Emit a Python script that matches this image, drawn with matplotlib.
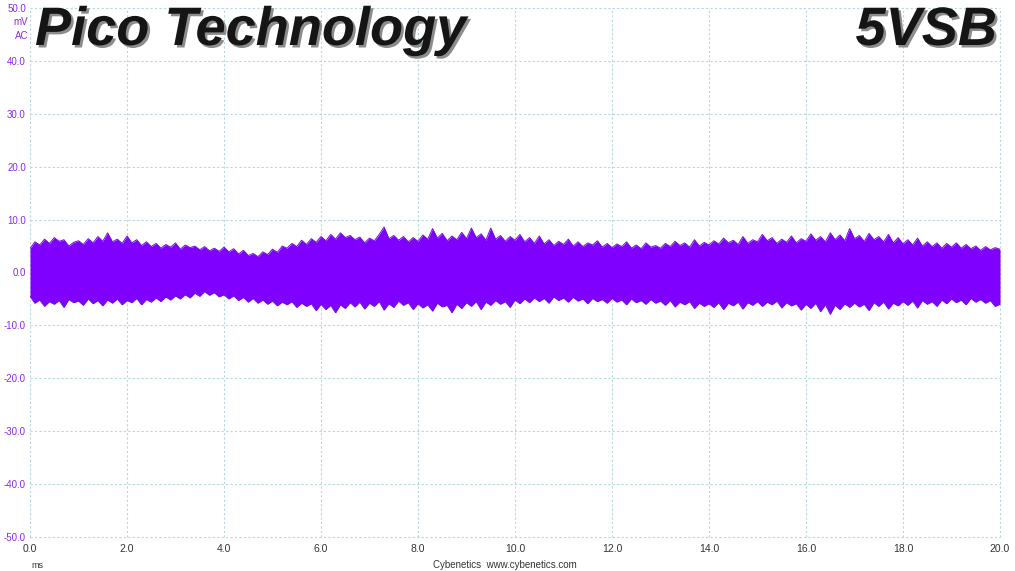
import numpy as np
import matplotlib
matplotlib.use("Agg")
import matplotlib.pyplot as plt
import matplotlib.patheffects as pe

# ---- data: envelope of the 5VSB ripple trace (mV), every 0.1 ms ----
time_ms = [round(i * 0.1, 1) for i in range(201)]

upper_mv = [
    4.5, 5.8, 5.2, 6.3, 5.5, 6.6, 5.9, 6.2, 5.0, 5.7,
    6.0, 5.3, 6.4, 5.6, 6.8, 5.9, 7.5, 5.8, 6.3, 5.5,
    6.9, 5.6, 6.2, 5.1, 5.8, 4.9, 5.5, 4.6, 5.3, 4.8,
    5.6, 4.4, 5.2, 4.7, 5.0, 4.3, 4.9, 4.1, 4.6, 4.0,
    4.8, 3.9, 4.5, 3.5, 4.2, 3.2, 3.6, 3.0, 3.9, 3.4,
    4.4, 3.8, 5.0, 4.6, 5.5, 4.9, 6.1, 5.3, 6.4, 5.7,
    6.8, 6.0, 7.2, 6.3, 7.5, 6.6, 7.0, 6.2, 6.7, 5.6,
    6.5, 6.0, 7.2, 8.6, 6.4, 7.0, 6.1, 6.8, 5.8, 6.6,
    5.9, 7.1, 6.3, 8.3, 6.5, 7.4, 6.0, 6.9, 6.2, 7.6,
    6.4, 8.4, 6.6, 7.3, 6.1, 8.4, 6.3, 7.0, 5.9, 6.8,
    6.1, 7.2, 5.8, 6.6, 5.5, 6.9, 5.4, 6.2, 5.1, 5.9,
    5.3, 6.3, 5.0, 5.8, 4.9, 5.6, 5.2, 6.0, 4.8, 5.5,
    4.7, 5.4, 4.9, 5.8, 4.6, 5.2, 4.5, 5.6, 4.8, 5.1,
    4.6, 5.5, 4.9, 5.9, 5.1, 5.6, 4.8, 6.2, 5.0, 5.7,
    5.2, 6.0, 5.4, 6.5, 5.6, 6.1, 5.3, 6.8, 5.5, 6.2,
    5.8, 7.2, 6.0, 6.6, 5.5, 6.3, 5.7, 6.9, 5.6, 6.4,
    5.9, 7.3, 6.1, 6.8, 5.8, 7.5, 6.2, 7.1, 6.0, 8.3,
    6.4, 7.0, 5.9, 7.4, 6.2, 6.8, 5.8, 7.2, 5.6, 6.6,
    5.4, 6.2, 5.2, 6.5, 5.0, 5.8, 4.9, 5.6, 4.6, 5.5,
    4.8, 5.6, 4.6, 5.3, 4.5, 5.0, 4.2, 4.9, 4.3, 4.7,
    4.4,
]

lower_mv = [
    -4.5, -5.8, -5.2, -6.4, -5.5, -6.0, -5.3, -6.6, -5.1, -5.7,
    -5.4, -6.2, -5.0, -5.9, -5.3, -6.3, -5.2, -5.8, -5.0, -6.1,
    -5.3, -5.7, -4.9, -6.1, -5.1, -5.6, -4.8, -5.5, -4.6, -5.2,
    -4.4, -5.0, -4.2, -4.8, -3.9, -4.5, -3.6, -4.3, -3.8, -4.6,
    -4.2, -5.0, -4.4, -5.3, -4.7, -5.6, -4.9, -5.8, -5.2, -6.0,
    -5.4, -6.3, -5.6, -6.1, -5.5, -6.6, -5.8, -6.4, -5.9, -7.2,
    -6.0, -7.0, -6.2, -7.6, -6.1, -6.8, -5.7, -6.5, -5.6, -6.9,
    -5.8, -6.4, -5.5, -7.1, -5.9, -6.6, -5.4, -6.2, -5.7, -7.0,
    -5.9, -6.7, -6.1, -7.3, -5.8, -6.5, -6.2, -7.6, -6.0, -6.8,
    -5.7, -6.4, -5.5, -7.0, -5.6, -6.2, -5.3, -6.0, -5.5, -6.6,
    -5.2, -5.9, -5.0, -5.7, -4.8, -5.5, -4.9, -5.8, -4.6, -5.3,
    -4.8, -5.6, -4.7, -5.4, -5.0, -5.9, -4.9, -5.5, -5.1, -5.8,
    -4.9, -5.6, -5.2, -6.1, -5.0, -5.7, -5.3, -6.0, -5.1, -5.8,
    -5.4, -6.2, -5.3, -6.5, -5.6, -6.1, -5.5, -6.8, -5.8, -6.4,
    -5.9, -6.6, -5.7, -7.0, -5.8, -6.3, -5.6, -6.9, -5.7, -6.2,
    -5.5, -6.4, -5.6, -6.1, -5.4, -6.7, -5.7, -6.3, -5.9, -7.1,
    -6.0, -6.8, -5.8, -7.4, -6.1, -7.9, -6.2, -7.0, -5.9, -6.6,
    -5.8, -6.5, -6.0, -7.2, -5.7, -6.4, -5.6, -6.9, -5.8, -6.3,
    -5.5, -6.2, -5.4, -6.7, -5.3, -6.0, -5.5, -6.4, -5.2, -5.9,
    -5.0, -5.7, -5.2, -6.1, -4.9, -5.6, -5.1, -5.8, -5.3, -6.4,
    -6.0,
]

x_ticks = [0, 2, 4, 6, 8, 10, 12, 14, 16, 18, 20]
y_ticks = [-50, -40, -30, -20, -10, 0, 10, 20, 30, 40, 50]
title_left = "Pico Technology"
title_right = "5VSB"

# ---- figure ----
W, H = 1015, 571
fig = plt.figure(figsize=(W / 100, H / 100), dpi=100)
ax = fig.add_axes([30 / W, 1 - 537 / H, (1000 - 30) / W, (537 - 8) / H])

trace_color = "#7f00ff"
edge_color = "#7010d8"
ax.fill_between(time_ms, lower_mv, upper_mv, color=trace_color, lw=0,
                zorder=3)
ax.plot(time_ms, upper_mv, color=edge_color, lw=0.7, zorder=4)
ax.plot(time_ms, lower_mv, color=edge_color, lw=0.7, zorder=4)

ax.set_xlim(0, 20)
ax.set_ylim(-50, 50)
ax.set_xticks(x_ticks)
ax.set_yticks(y_ticks)
ax.set_xticklabels([f"{v:.1f}" for v in x_ticks], fontsize=7.5, color="#333333",
                   family="Liberation Sans")
ax.set_yticklabels([f"{v:.1f}" for v in y_ticks], fontsize=7, color="#8a2be2",
                   family="Liberation Sans")
ax.tick_params(axis="both", length=0, pad=3)
ax.tick_params(axis="x", pad=5)
for s in ax.spines.values():
    s.set_visible(False)
ax.grid(True, color="#b4d8de", linestyle=(0, (2, 2)), linewidth=0.8, zorder=0)
for gl in ax.get_xgridlines() + ax.get_ygridlines():
    gl.set_clip_on(False)

# y unit labels
fig.text(28 / W, 1 - 22 / H, "mV", ha="right", va="center", fontsize=7,
         color="#8a2be2", family="Liberation Sans")
fig.text(28 / W, 1 - 36 / H, "AC", ha="right", va="center", fontsize=7,
         color="#8a2be2", family="Liberation Sans")

# bottom texts
fig.text(37 / W, 1 - 565 / H, "ms", ha="center", va="center", fontsize=6.5,
         color="#333333", family="Liberation Sans")
fig.text(505 / W, 1 - 565 / H, "Cybenetics  www.cybenetics.com", ha="center",
         va="center", fontsize=7, color="#333333", family="Liberation Sans")

# titles
effects = [pe.withSimplePatchShadow(offset=(1.8, -1.8), shadow_rgbFace="#8c8c8c", alpha=1.0)]
fig.text(35 / W, 1 - 31 / H, title_left, ha="left", va="center", fontsize=39,
         fontweight="bold", fontstyle="italic", family="Liberation Sans",
         color="#151515", path_effects=effects, zorder=10)
fig.text(997 / W, 1 - 31 / H, title_right, ha="right", va="center", fontsize=39,
         fontweight="bold", fontstyle="italic", family="Liberation Sans",
         color="#151515", path_effects=effects, zorder=10)

fig.savefig("out.png", dpi=100, facecolor="white")
